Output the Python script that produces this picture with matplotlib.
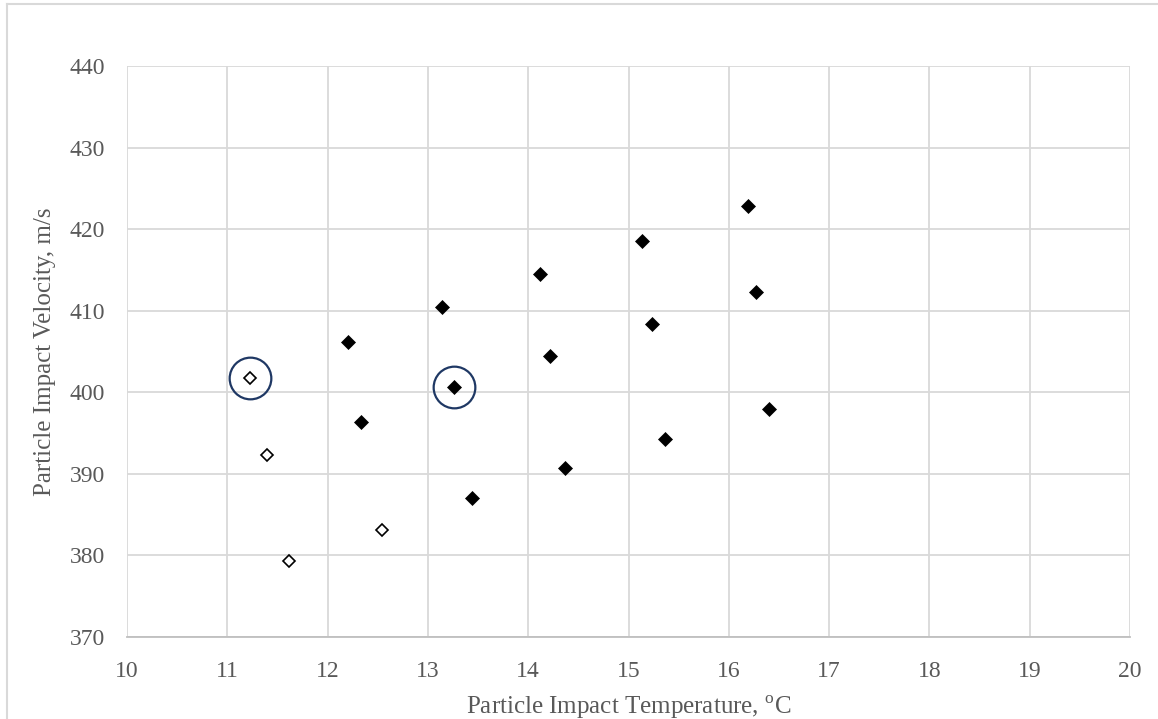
import matplotlib

matplotlib.use("Agg")
import matplotlib.pyplot as plt
from matplotlib.lines import Line2D

# open diamonds
open_temp = [11.23, 11.40, 11.62, 12.54]
open_vel = [401.7, 392.3, 379.3, 383.1]

# filled diamonds
fill_temp = [12.20, 12.33, 13.14, 13.26, 13.44, 14.12, 14.22, 14.37,
             15.13, 15.23, 15.36, 16.19, 16.27, 16.40]
fill_vel = [406.2, 396.4, 410.4, 400.6, 387.0, 414.5, 404.5, 390.7,
            418.6, 408.4, 394.3, 422.8, 412.3, 398.0]

# circled points
ring_temp = [11.23, 13.26]
ring_vel = [401.7, 400.6]

x_ticks = list(range(10, 21))
y_ticks = list(range(370, 441, 10))

COLORS = {
    "grid": "#D9D9D9",
    "axis": "#BFBFBF",
    "text": "#595959",
    "ring": "#1F3864",
    "border": "#D9D9D9",
}

plt.rcParams["font.family"] = ["Liberation Serif", "DejaVu Serif"]
plt.rcParams["mathtext.fontset"] = "custom"
plt.rcParams["mathtext.rm"] = "Liberation Serif"

fig = plt.figure(figsize=(11.58, 7.19), dpi=100)
fig.patch.set_facecolor("white")

W, H = 1158, 719
left, right, top, bottom = 127, 1130, 66, 637
ax = fig.add_axes([left / W, 1 - bottom / H, (right - left) / W, (bottom - top) / H])

# outer chart border (only top and left are inside the picture)
fig.add_artist(Line2D([7 / W, 7 / W], [0, 1 - 4 / H], transform=fig.transFigure,
                      color=COLORS["border"], lw=1.5))
fig.add_artist(Line2D([7 / W, 1], [1 - 4 / H, 1 - 4 / H], transform=fig.transFigure,
                      color=COLORS["border"], lw=1.5))

ax.set_xlim(10, 20)
ax.set_ylim(370, 440)
ax.set_xticks(x_ticks)
ax.set_yticks(y_ticks)
ax.grid(True, color=COLORS["grid"], lw=1.3)
ax.set_axisbelow(True)
for side in ["top", "right", "left"]:
    ax.spines[side].set_visible(False)
ax.spines["bottom"].set_color(COLORS["axis"])
ax.spines["bottom"].set_linewidth(1.3)
ax.tick_params(length=0, labelsize=17, labelcolor=COLORS["text"])
ax.tick_params(axis="x", pad=17)
ax.tick_params(axis="y", pad=16)

ax.plot(fill_temp, fill_vel, linestyle="none", marker="D", ms=7,
        mfc="black", mec="black", mew=0.5, zorder=3)
ax.plot(open_temp, open_vel, linestyle="none", marker="D", ms=6.2,
        mfc="white", mec="black", mew=1.2, zorder=3)
ax.plot(ring_temp, ring_vel, linestyle="none", marker="o", ms=30,
        mfc="none", mec=COLORS["ring"], mew=1.6, zorder=4)

fig.text((left + right) / 2 / W, 1 - 707 / H,
         r"Particle Impact Temperature, $^{\mathrm{o}}$C", fontsize=18,
         color=COLORS["text"], ha="center", va="center")
fig.text(45 / W, 1 - ((top + bottom) / 2) / H,
         "Particle Impact Velocity, m/s", fontsize=18, rotation=90,
         color=COLORS["text"], ha="center", va="center")

fig.savefig("out.png", dpi=100, facecolor="white")
